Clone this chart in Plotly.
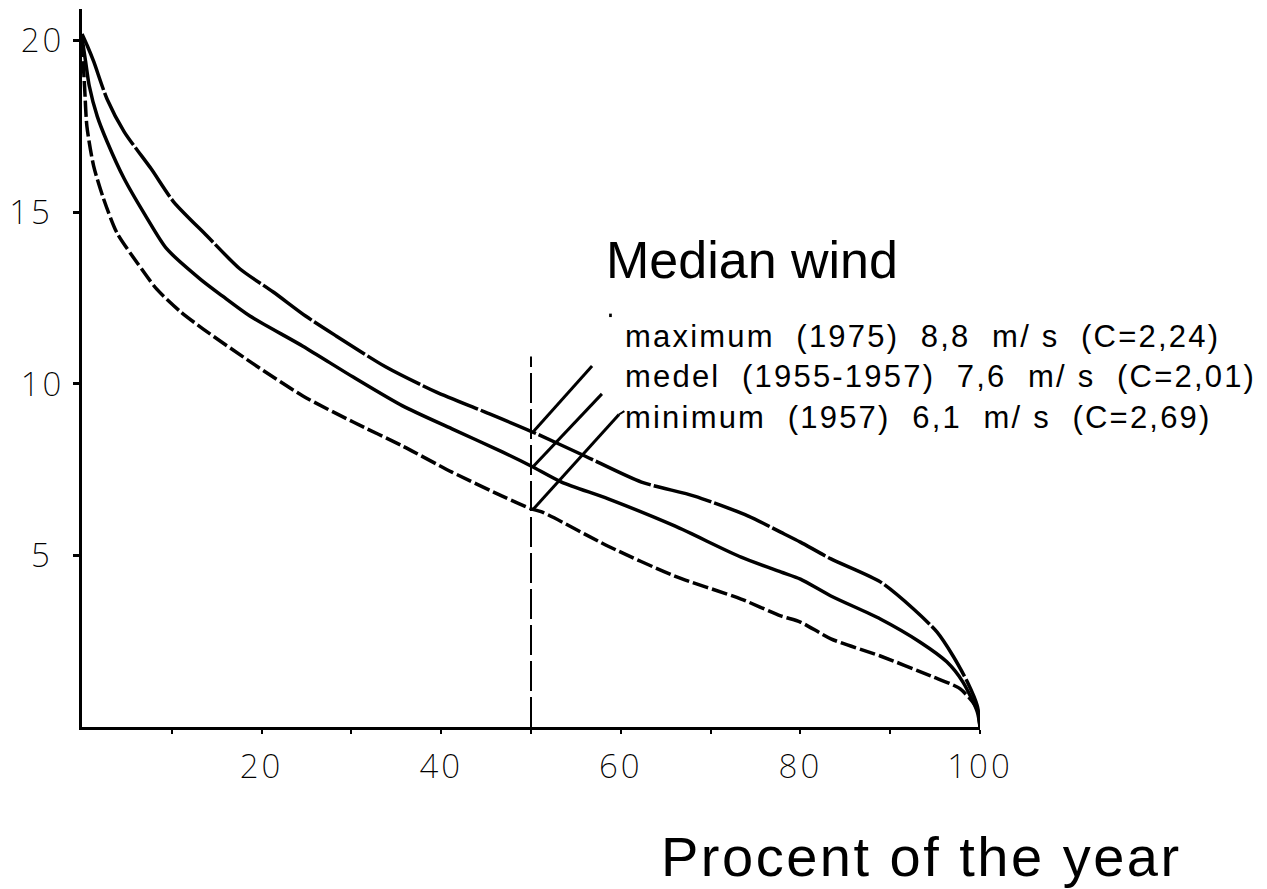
import numpy as np
import plotly.graph_objects as go

# ---- data (percent of year, wind speed m/s) ----
max_x = [0, 0.6, 1.3, 2.8, 4.7, 7.7, 10.2, 13.9, 17.6, 21.3, 24.9, 28.3, 33.8, 39.4, 44.9, 50,
         56, 62.3, 68.2, 74.2, 77.8, 80, 83.4, 88.9, 92.6, 95.2, 97, 98.6, 99.7, 100]
max_y = [20.2, 19.85, 19.4, 18.3, 17.35, 16.27, 15.31, 14.32, 13.35, 12.68, 11.98, 11.4, 10.5, 9.77, 9.18, 8.62,
         7.9, 7.14, 6.73, 6.15, 5.68, 5.39, 4.9, 4.23, 3.44, 2.77, 2.07, 1.31, 0.61, 0]

med_x = [0, 0.4, 0.8, 1.7, 2.8, 4.7, 7.2, 9.4, 13.2, 15.7, 18.7, 24.6, 30.2, 35.7, 41.2, 46.8, 50,
         53.4, 58.6, 66, 73.4, 77.8, 80, 83.4, 88.9, 93.3, 96.3, 98.1, 99.7, 100]
med_y = [20.1, 19.4, 18.7, 17.8, 17.06, 15.98, 14.85, 13.95, 13.05, 12.55, 11.98, 11.1, 10.2, 9.36, 8.69, 8.02, 7.61,
         7.14, 6.65, 5.86, 4.95, 4.52, 4.31, 3.82, 3.15, 2.48, 1.9, 1.31, 0.44, 0]

min_x = [0, 0.3, 0.55, 1.3, 2.4, 3.9, 6.1, 8.3, 11, 13.5, 19, 24.6, 30.2, 35.7, 41.2, 46.8, 50,
         51.2, 58.6, 66, 73.4, 77.8, 80, 83.4, 88.9, 94.5, 97.8, 99.7, 100]
min_y = [20.0, 18.6, 17.5, 16.35, 15.4, 14.4, 13.55, 12.77, 12.1, 11.6, 10.6, 9.65, 8.89, 8.19, 7.43, 6.73, 6.36,
         6.27, 5.27, 4.4, 3.73, 3.24, 3.06, 2.57, 2.07, 1.49, 1.11, 0.52, 0]

x_tickvals = [10, 20, 30, 40, 50, 60, 70, 80, 90, 100]
x_ticktext = ["", "20", "", "40", "", "60", "", "80", "", "100"]
y_tickvals = [5, 10, 15, 20]
y_ticktext = ["5\u00a0", "10", "15\u00a0", "20"]

median_x = 50
median_line_top = 10.8

title_text = "Median wind"
legend_lines = [
    "maximum  (1975)  8,8  m/ s  (C=2,24)",
    "medel  (1955-1957)  7,6  m/ s  (C=2,01)",
    "minimum  (1957)  6,1  m/ s  (C=2,69)",
]
x_title = "Procent of the year"

# ---- figure ----
fig = go.Figure()
fig.add_trace(go.Scatter(x=max_x, y=max_y, mode="lines",
                         line=dict(color="black", width=3.5, dash="60px,3px", shape="spline", smoothing=0.7),
                         cliponaxis=False, showlegend=False))
fig.add_trace(go.Scatter(x=med_x, y=med_y, mode="lines",
                         line=dict(color="black", width=3.5, shape="spline", smoothing=0.7),
                         cliponaxis=False, showlegend=False))
fig.add_trace(go.Scatter(x=min_x, y=min_y, mode="lines",
                         line=dict(color="black", width=3.5, dash="16px,4px", shape="spline", smoothing=0.7),
                         cliponaxis=False, showlegend=False))

# median vertical dashed line
fig.add_shape(type="line", x0=median_x, x1=median_x, y0=0, y1=median_line_top,
              xref="x", yref="y", line=dict(color="black", width=2, dash="30px,6px"))

# leader lines from median points to the labels
v_max = float(np.interp(median_x, max_x, max_y))
v_med = float(np.interp(median_x, med_x, med_y))
v_min = float(np.interp(median_x, min_x, min_y))
leaders = [
    (v_max, 6.8, 1.9),
    (v_med, 7.9, 2.1),
    (v_min, 9.8, 2.75),
]
for v, dx, dy in leaders:
    fig.add_shape(type="line", x0=median_x + 0.3, y0=v, x1=median_x + dx, y1=v + dy,
                  xref="x", yref="y", line=dict(color="black", width=3))
# small hook on the minimum leader
fig.add_shape(type="line", x0=median_x + 9.8, y0=v_min + 2.75, x1=median_x + 10.4, y1=v_min + 2.85,
              xref="x", yref="y", line=dict(color="black", width=2))
# stray dot near "maximum"
fig.add_shape(type="rect", x0=58.7, x1=59.0, y0=11.95, y1=12.05, xref="x", yref="y",
              line=dict(width=0), fillcolor="black")

ls = "letter-spacing:2.2px"
fig.add_annotation(x=60.3, y=10.2, xref="x", yref="y", xanchor="left", yanchor="middle",
                   align="left", showarrow=False,
                   text="<br>".join(f'<span style="{ls}">{t}</span>' for t in legend_lines),
                   font=dict(family="Liberation Sans, Arial", size=31, color="black"))
fig.add_annotation(x=58.1, y=13.6, xref="x", yref="y", xanchor="left", yanchor="middle",
                   showarrow=False, text=title_text,
                   font=dict(family="Liberation Sans, Arial", size=52, color="black"))
fig.add_annotation(x=64.3, y=-0.18, xref="x", yref="paper", xanchor="left", yanchor="middle",
                   showarrow=False,
                   text=f'<span style="letter-spacing:2.5px">{x_title}</span>',
                   font=dict(family="Liberation Sans, Arial", size=56, color="black"))

tick_ls = "letter-spacing:3px"
fig.update_xaxes(range=[0, 100], tickvals=x_tickvals,
                 ticktext=[f'<span style="{tick_ls}">{t}</span>' if t else "" for t in x_ticktext],
                 ticks="outside", ticklen=4, tickwidth=2, tickcolor="black",
                 showline=True, linewidth=3, linecolor="black",
                 showgrid=False, zeroline=False, ticklabelstandoff=4,
                 tickfont=dict(family="Noto Sans, Liberation Sans", size=33, color="black", weight=200))
fig.update_yaxes(range=[0, 20.93], tickvals=y_tickvals,
                 ticktext=[f'<span style="{tick_ls}">{t}</span>' for t in y_ticktext],
                 ticks="outside", ticklen=6, tickwidth=3, tickcolor="black",
                 showline=True, linewidth=3, linecolor="black",
                 showgrid=False, zeroline=False, ticklabelstandoff=2,
                 tickfont=dict(family="Noto Sans, Liberation Sans", size=33, color="black", weight=200))

fig.update_layout(width=1267, height=889,
                  margin=dict(l=78, r=287, t=9, b=162, pad=0),
                  plot_bgcolor="white", paper_bgcolor="white", showlegend=False)

fig.write_html("out.html")
